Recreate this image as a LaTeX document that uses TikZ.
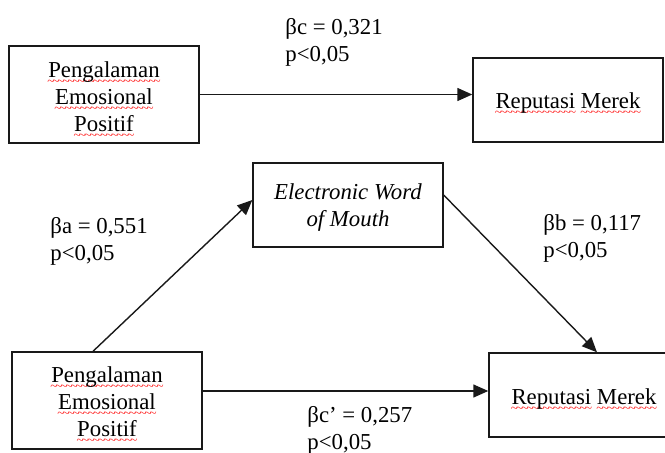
\documentclass[tikz,border=0pt]{standalone}
\usepackage{fontspec}
\setmainfont{Liberation Serif}
\usetikzlibrary{arrows.meta}

% red wavy proofing underline under single words, built from repeated tildes
\newcommand\spellwave[1]{\setbox0\hbox{#1}\leavevmode
  \rlap{\lower4pt\hbox to\wd0{\color{red!85!white}%
    \xleaders\hbox{\fontsize{6.5}{6.5}\selectfont\kern-0.5pt\char"7E\kern-0.5pt}\hfil}}%
  \box0\relax}
% stacked lines, baseline on the first line
\newcommand\statlines[2]{\begin{tabular}[t]{@{}l@{}}#1\\#2\end{tabular}}
\newcommand\centerlines[1]{\begin{tabular}[t]{@{}c@{}}#1\end{tabular}}
\newcommand\pepwords{\centerlines{\spellwave{Pengalaman}\\\spellwave{Emosional}\\\spellwave{Positif}}}

\begin{document}
\begin{tikzpicture}[x=0.5pt,y=-0.5pt,
  textfont/.style={font=\fontsize{11.4}{13.5}\selectfont},
  box/.style={draw=black!90, line width=0.7pt, inner sep=0pt, minimum width=95pt},
  tallbox/.style={box, minimum height=48.5pt},
  flatbox/.style={box, minimum height=42pt},
  boxtext/.style={anchor=base, inner sep=0pt, textfont},
  link/.style={draw=black!90, line width=0.7pt,
    -{Triangle[length=7.5pt,width=6.5pt]}},
  stat/.style={anchor=base west, inner sep=0pt, textfont}]

\clip (0,0) rectangle (665,452);

% total effect
\node[tallbox] (pep1) at (104,94.5) {};
\node[boxtext] (pep1text) at (pep1 |- 0,77) {\pepwords};
\node[flatbox] (rm1) at (568,100) {};
\node[boxtext] (rm1text) at (rm1 |- 0,108) {\spellwave{Reputasi} \spellwave{Merek}};

% mediation model
\node[flatbox] (ewom) at (348,205) {};
\node[boxtext, font=\fontsize{11.4}{13.5}\selectfont\itshape] (ewomtext) at (ewom |- 0,199)
  {\centerlines{Electronic Word\\of Mouth}};
\node[tallbox] (pep2) at (107,400.5) {};
\node[boxtext] (pep2text) at (pep2 |- 0,382) {\pepwords};
\node[flatbox] (rm2) at (584,395) {};
\node[boxtext] (rm2text) at (rm2 |- 0,404) {\spellwave{Reputasi} \spellwave{Merek}};

% paths
\draw[link] (pep1.east) -- (pep1.east -| rm1.west);
\draw[link] ([xshift=-7pt]pep2.north) -- ([yshift=2.5pt]ewom.west);
\draw[link] ([yshift=5pt]ewom.east) -- ([xshift=6.5pt]rm2.north);
\coordinate (direct) at ([yshift=4.75pt]pep2.east);
\draw[link] (direct) -- (direct -| rm2.west);

% coefficients
\node[stat] (sc) at (285,34) {\statlines{βc = 0,321}{p<0,05}};
\node[stat] (sa) at (50,233) {\statlines{βa = 0,551}{p<0,05}};
\node[stat] (sb) at (543,230) {\statlines{βb = 0,117}{p<0,05}};
\node[stat] (scp) at (307,422) {\statlines{βc’ = 0,257}{p<0,05}};
\end{tikzpicture}
\end{document}
